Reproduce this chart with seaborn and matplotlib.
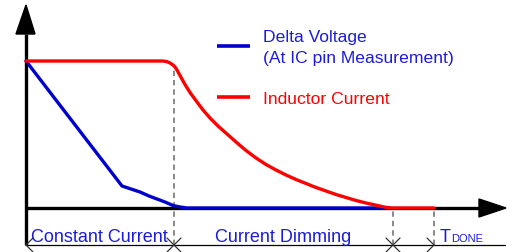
import matplotlib
matplotlib.use("Agg")
import matplotlib.pyplot as plt
import seaborn as sns
import pandas as pd

# ---- data (time units from origin, value units above baseline) ----
red_t = [0, 137, 141, 144, 147, 149, 151, 154, 159, 164, 171, 177, 184, 192, 201, 210,
         220, 230, 240, 250, 260, 270, 280, 290, 300, 310, 320, 330, 340, 350, 358, 364, 408]
red_v = [147, 147, 146.3, 145, 143, 141, 138, 132.5, 123.5, 115.5, 106, 98, 90, 82, 74, 66,
         57.5, 50, 43.5, 38, 33, 28.5, 24.5, 20.5, 17, 13.5, 10.5, 7.5, 5, 2.8, 1, 0, 0]
blue_t = [0, 96, 105, 114, 123, 131, 139, 147, 154, 161, 364]
blue_v = [147, 22, 19, 16, 12, 9, 6, 2.5, 1, 0, 0]

phase_marks = [0, 148, 367, 408]           # boundaries on the time line
dash_tops = [142, 0, 0]                    # top of dashed guides at 148, 367, 408
phase_labels = ["Constant Current", "Current Dimming"]
legend_labels = ["Delta Voltage", "(At IC pin Measurement)", "Inductor Current"]

sns.set_style("white")
plt.rcParams['font.family'] = ['Liberation Sans', 'DejaVu Sans']

fig = plt.figure(figsize=(5.07, 2.53), dpi=100)
ax = fig.add_axes([0, 0, 1, 1])
ax.set_xlim(-26, 481)
ax.set_ylim(-44, 209)
ax.axis('off')

BLUE = '#0000cc'
RED = '#ff0000'
TXTB = '#1c1cd6'
GREY = '#808080'

# axes
ax.plot([0, 0], [-37, 174], color='black', lw=2.4, solid_capstyle='butt', zorder=3)
ax.fill([-10, 0, 9], [174, 203, 174], color='black', zorder=3)
ax.plot([0, 453], [0, 0], color='black', lw=2.4, solid_capstyle='butt', zorder=2)
ax.fill([453, 480, 453], [9, 0, -9], color='black', zorder=3)

# dashed guides
tl_y = -37
for xm, top in zip(phase_marks[1:], dash_tops):
    ax.plot([xm, xm], [tl_y, top], color=GREY, lw=1.3, ls=(0, (3, 2.2)), zorder=1)

# time line with markers
ax.plot([0, 479], [tl_y, tl_y], color='black', lw=0.9, zorder=2)
def chev(x, d):
    ax.plot([x + d * 7, x, x + d * 7], [tl_y + 7, tl_y, tl_y - 7], color='#333333', lw=0.9, zorder=3)
chev(phase_marks[0], 1)
chev(phase_marks[1], 1); chev(phase_marks[1], -1)
chev(phase_marks[2], 1); chev(phase_marks[2], -1)
chev(phase_marks[3], -1)

# curves
df_b = pd.DataFrame({'t': blue_t, 'v': blue_v})
df_r = pd.DataFrame({'t': red_t, 'v': red_v})
sns.lineplot(data=df_b, x='t', y='v', ax=ax, color=BLUE, lw=2.4, sort=False, zorder=4)
sns.lineplot(data=df_r, x='t', y='v', ax=ax, color=RED, lw=2.4, sort=False, zorder=5)

# legend
ax.plot([191, 224], [162.5, 162.5], color=BLUE, lw=2.6, solid_capstyle='butt')
ax.plot([191, 224], [111, 111], color=RED, lw=2.6, solid_capstyle='butt')
ax.text(237, 209 - 42, legend_labels[0], color=TXTB, fontsize=12.6, va='baseline')
ax.text(237, 209 - 63, legend_labels[1], color=TXTB, fontsize=12.6, va='baseline')
ax.text(237, 209 - 104, legend_labels[2], color=RED, fontsize=12.6, va='baseline')

# phase labels
ax.text(5, -33, phase_labels[0], color=TXTB, fontsize=13, va='baseline')
ax.text(189, -33, phase_labels[1], color=TXTB, fontsize=13, va='baseline')
ax.text(414, -33, "T", color=TXTB, fontsize=13, va='baseline')
ax.text(425, -33, "DONE", color=TXTB, fontsize=8, va='baseline')

fig.savefig('out.png', dpi=100)
